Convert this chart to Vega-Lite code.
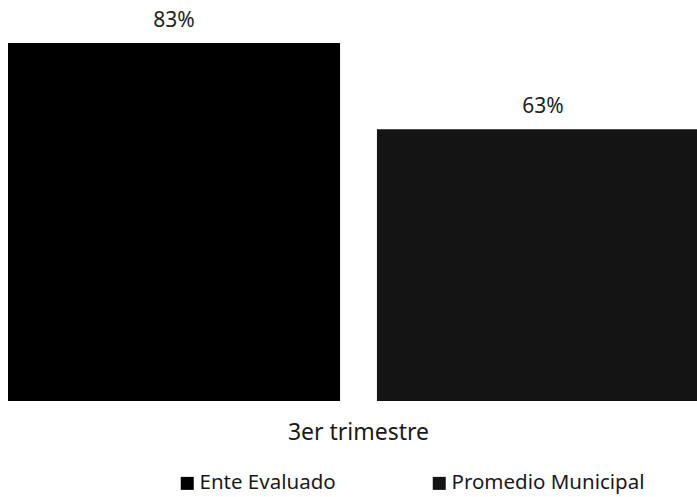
{
  "$schema": "https://vega.github.io/schema/vega-lite/v6.json",
  "width": 697,
  "height": 401,
  "autosize": {"type": "none"},
  "padding": {"left": 0, "top": 0, "right": 0, "bottom": 96},
  "background": "#ffffff",
  "data": {
    "values": [
      {"trimestre": "3er trimestre", "serie": "Ente Evaluado", "valor": 0.83},
      {"trimestre": "3er trimestre", "serie": "Promedio Municipal", "valor": 0.63}
    ]
  },
  "encoding": {
    "x": {
      "field": "trimestre",
      "type": "nominal",
      "title": null,
      "scale": {"range": [8, 709], "paddingInner": 0, "paddingOuter": 0},
      "axis": {"ticks": false, "domain": false, "labelAngle": 0, "labelFontSize": 23, "labelPadding": 20, "labelColor": "#1a1a1a"}
    },
    "xOffset": {
      "field": "serie",
      "type": "nominal",
      "scale": {"paddingInner": 0.1, "paddingOuter": 0}
    },
    "y": {
      "field": "valor",
      "type": "quantitative",
      "scale": {"domain": [0, 0.93]},
      "axis": null
    }
  },
  "layer": [
    {
      "mark": {"type": "bar"},
      "encoding": {
        "color": {
          "field": "serie",
          "type": "nominal",
          "scale": {"range": ["#000000", "#141414"]},
          "legend": {
            "title": null,
            "orient": "none",
            "direction": "horizontal",
            "legendX": 177,
            "legendY": 473,
            "symbolType": "square",
            "symbolSize": 169,
            "symbolStrokeWidth": 0,
            "labelFontSize": 20.5,
            "labelOffset": 2,
            "labelLimit": 400,
            "labelColor": "#1a1a1a",
            "columnPadding": 93
          }
        }
      }
    },
    {
      "mark": {"type": "text", "baseline": "alphabetic", "dy": -16, "fontSize": 21, "color": "#222222"},
      "encoding": {
        "text": {"field": "valor", "type": "quantitative", "format": ".0%"},
        "detail": {"field": "serie"}
      }
    }
  ],
  "config": {
    "view": {"stroke": null},
    "font": "Noto Sans",
    "text": {"font": "Noto Sans"}
  }
}
